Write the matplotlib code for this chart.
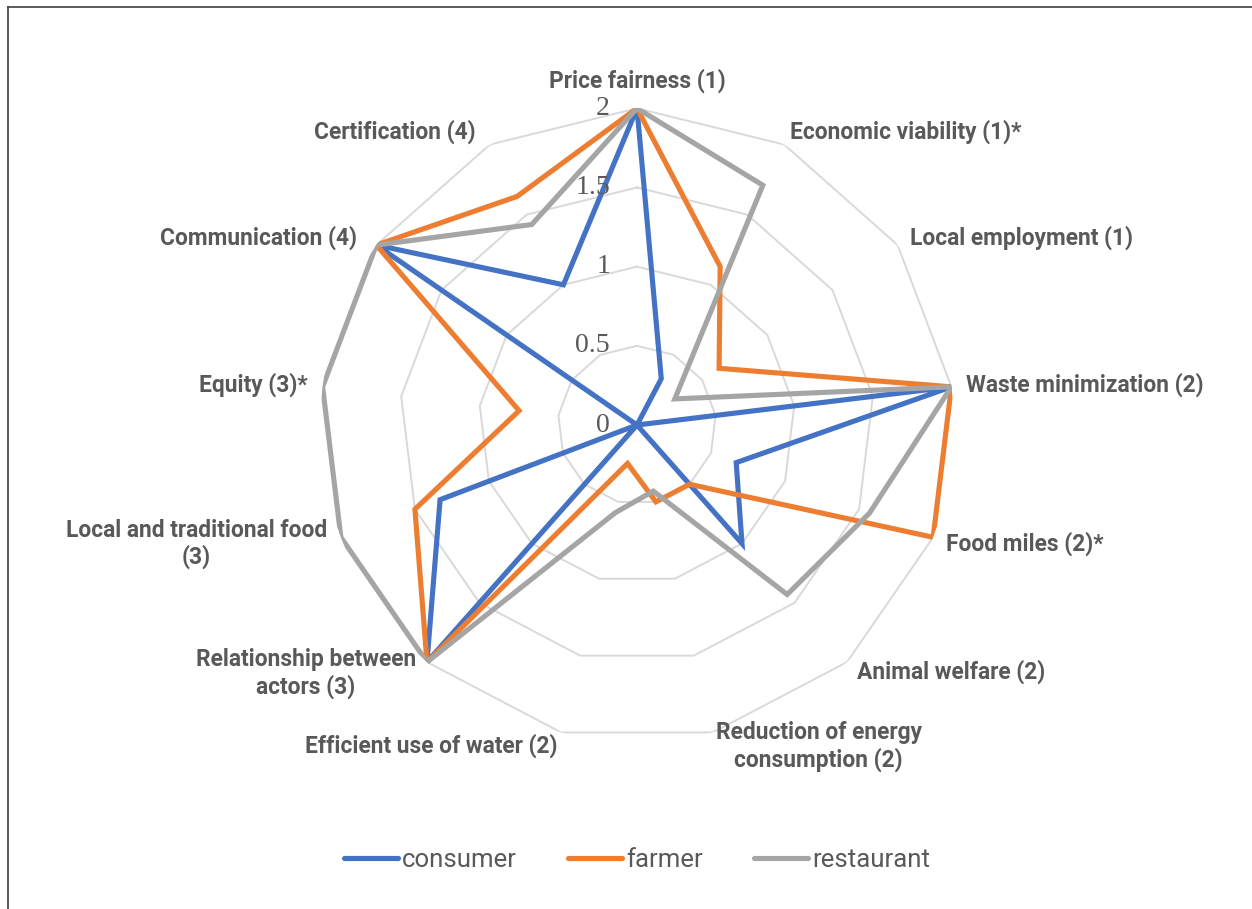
import numpy as np
import matplotlib
matplotlib.use("Agg")
import matplotlib.pyplot as plt
from matplotlib.lines import Line2D

categories = [
    "Price fairness (1)", "Economic viability (1)*", "Local employment (1)",
    "Waste minimization (2)", "Food miles (2)*", "Animal welfare (2)",
    "Reduction of energy\nconsumption (2)", "Efficient use of water (2)",
    "Relationship between\nactors (3)", "Local and traditional food\n(3)",
    "Equity (3)*", "Communication (4)", "Certification (4)",
]
consumer = [2, 0.33, 0, 2, 0.67, 1, 0, 0, 2, 1.33, 0, 2, 1]
farmer = [2, 1.13, 0.63, 2, 2, 0.5, 0.5, 0.25, 2, 1.5, 0.75, 2, 1.63]
restaurant = [2, 1.71, 0.29, 2, 1.57, 1.43, 0.43, 0.57, 2, 2, 2, 2, 1.43]
series_names = ["consumer", "farmer", "restaurant"]
r_ticks = [0, 0.5, 1, 1.5, 2]
r_tick_labels = ["0", "0.5", "1", "1.5", "2"]

colors = ["#4472C4", "#ED7D31", "#A5A5A5"]
text_color = "#595959"
grid_color = "#D9D9D9"

W, H, DPI = 1252, 909, 100
fig = plt.figure(figsize=(W / DPI, H / DPI), dpi=DPI)

cx, cy, R = 637, 425, 316.7
ax = fig.add_axes([(cx - R) / W, (H - cy - R) / H, 2 * R / W, 2 * R / H],
                  projection="polar")
ax.set_theta_zero_location("N")
ax.set_theta_direction(-1)
ax.set_ylim(0, 2)
ax.grid(False)
ax.spines["polar"].set_visible(False)
ax.set_xticks([])
ax.set_yticks([])
ax.patch.set_alpha(0)

n = len(categories)
theta = np.linspace(0, 2 * np.pi, n, endpoint=False)
theta_c = np.append(theta, theta[0])

# ring polygons
for v in r_ticks[1:]:
    ax.plot(theta_c, [v] * (n + 1), color=grid_color, lw=1.4, zorder=1)

# series
for vals, col, name in zip([consumer, farmer, restaurant], colors, series_names):
    vv = list(vals) + [vals[0]]
    ax.plot(theta_c, vv, color=col, lw=3.7, solid_joinstyle="miter",
            label=name, zorder=3)

# radial tick labels
px2pt = 72 / DPI
for v, lab in zip(r_ticks, r_tick_labels):
    ax.annotate(lab, xy=(0, v), xytext=(-27 * px2pt, 0), textcoords="offset points",
                ha="right", va="center", fontsize=20, color=text_color,
                family=["Liberation Serif", "DejaVu Serif"], zorder=4)

# category labels: (dx px, dy px, ha)
offsets = [
    (0, 28, "center"), (6, 12.6, "left"), (12, 7, "left"), (15, 2, "left"),
    (13, -6, "left"), (10, -10, "left"), (106, -14, "center"), (-4, -13.5, "right"),
    (-11, -11.5, "right"), (-14, -6.5, "right"), (-15, 2, "right"),
    (-19, 7, "right"), (-14, 12.6, "right"),
]
for t, lab, (dx, dy, ha) in zip(theta, categories, offsets):
    ax.annotate(lab, xy=(t, 2), xytext=(dx * px2pt, dy * px2pt),
                textcoords="offset points", ha=ha, va="center", ma="center",
                fontsize=16.4, fontweight="bold", color=text_color,
                family=["Roboto", "DejaVu Sans"], linespacing=1.15,
                annotation_clip=False)

# legend
handles = [Line2D([], [], color=c, lw=3.7, solid_capstyle="round") for c in colors]
leg = fig.legend(handles, series_names, loc="center", ncol=3,
                 bbox_to_anchor=(637 / W, 1 - 860 / H), frameon=False,
                 prop={"family": ["Liberation Sans Narrow", "Roboto", "DejaVu Sans"], "size": 18.5},
                 handlelength=2.1, handletextpad=0.15, columnspacing=2.0)
for txt in leg.get_texts():
    txt.set_color(text_color)

# chart-area frame (left and top edges visible)
fig.add_artist(Line2D([7.5 / W, 7.5 / W], [0, 1 - 6.5 / H], transform=fig.transFigure,
                      color="#404040", lw=1.2))
fig.add_artist(Line2D([7.5 / W, 1], [1 - 6.5 / H, 1 - 6.5 / H], transform=fig.transFigure,
                      color="#404040", lw=1.2))

fig.savefig("out.png", dpi=DPI)
